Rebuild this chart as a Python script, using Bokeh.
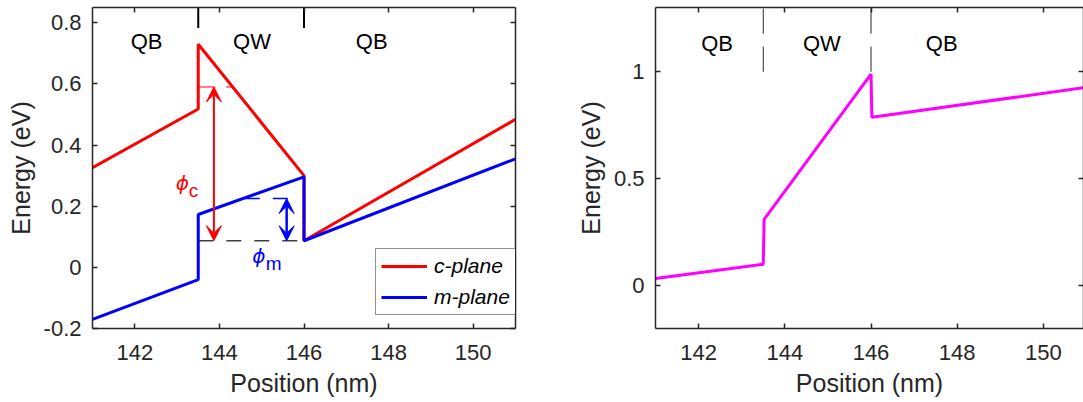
from bokeh.plotting import figure
from bokeh.layouts import row
from bokeh.models import LinearAxis, Range1d, FixedTicker, Arrow, VeeHead, Legend, LegendItem
from bokeh.embed import file_html
from bokeh.resources import INLINE
from bokeh.core.properties import value

# ---------------- data ----------------
pos_c = [141.0, 143.5, 143.5, 146.0, 146.0, 151.0]
energy_c = [0.326, 0.518, 0.730, 0.300, 0.087, 0.484]
pos_m = [141.0, 143.5, 143.5, 146.0, 146.0, 151.0]
energy_m = [-0.170, -0.040, 0.173, 0.296, 0.087, 0.355]
pos_r = [141.0, 143.5, 143.52, 146.0, 146.02, 151.0]
energy_r = [0.034, 0.100, 0.310, 0.989, 0.787, 0.927]

x_ticks = [142, 144, 146, 148, 150]
x_tick_labels = ["142", "144", "146", "148", "150"]
y_ticks_left = [-0.2, 0.0, 0.2, 0.4, 0.6, 0.8]
y_tick_labels_left = ["-0.2", "0", "0.2", "0.4", "0.6", "0.8"]
y_ticks_right = [0.0, 0.5, 1.0]
y_tick_labels_right = ["0", "0.5", "1"]

region_labels = ["QB", "QW", "QB"]
region_x_left = [142.28, 144.77, 147.6]
region_y_left = [0.738, 0.738, 0.738]
region_x_right = [142.43, 144.86, 147.64]
region_y_right = [1.13, 1.13, 1.13]
boundaries = [143.5, 146.0]
boundary_y_left = [0.783, 0.85]
boundary_y_right = [1.0, 1.3]

# annotations (left panel)
phi_c_arrow_x = 143.87
phi_c_arrow_y = [0.087, 0.59]
phi_c_ref_x = [143.5, 144.31]
phi_c_ref_y = 0.59
phi_m_arrow_x = 145.59
phi_m_arrow_y = [0.087, 0.225]
phi_m_ref_x = [144.6, 145.76]
phi_m_ref_y = 0.225
base_x = [143.5, 146.0]
base_y = 0.087
phi_c_sym = (143.125, 0.277)
phi_c_sub = (143.39, 0.2525)
phi_m_sym = (144.93, 0.037)
phi_m_sub = (145.28, 0.014)

AX = "#262626"
FONT = "Liberation Sans"


def make_fig(width, xr, yr, yticks, ylabels, mbl, mbr):
    p = figure(width=width, height=402, x_range=Range1d(*xr), y_range=Range1d(*yr),
               output_backend="svg", toolbar_location=None,
               min_border_left=mbl, min_border_right=mbr, min_border_top=7, min_border_bottom=74,
               x_axis_type=None, y_axis_type=None)
    p.grid.visible = False
    p.outline_line_color = None
    p.background_fill_color = "white"
    p.border_fill_color = "white"

    def base_axis(ticks, labels, show):
        if show:
            overrides = {t: l for t, l in zip(ticks, labels)}
        else:
            overrides = {t: "" for t in ticks}
        ax = LinearAxis(ticker=FixedTicker(ticks=ticks), major_label_overrides=overrides)
        ax.axis_line_color = AX
        ax.axis_line_width = 1.5
        ax.major_tick_line_color = AX
        ax.major_tick_line_width = 1.5
        ax.major_tick_in = 5
        ax.major_tick_out = 0
        ax.minor_tick_line_color = None
        ax.major_label_text_font = FONT
        ax.major_label_text_font_size = "22px"
        ax.major_label_text_color = AX
        if show:
            ax.major_label_standoff = 11
            ax.axis_label_text_font = FONT
            ax.axis_label_text_font_size = "25px"
            ax.axis_label_text_font_style = "normal"
            ax.axis_label_text_color = AX
        else:
            ax.major_label_standoff = 0
            ax.axis_label_standoff = 0
        return ax

    xb = base_axis(x_ticks, x_tick_labels, True)
    xb.axis_label = "Position (nm)"
    xb.major_label_standoff = 16
    xb.axis_label_standoff = 6
    yl = base_axis(yticks, ylabels, True)
    yl.axis_label = "Energy (eV)"
    yl.axis_label_standoff = 6
    p.add_layout(xb, "below")
    p.add_layout(yl, "left")
    p.add_layout(base_axis(x_ticks, x_tick_labels, False), "above")
    p.add_layout(base_axis(yticks, ylabels, False), "right")
    return p


# ---------------- left panel ----------------
p1 = make_fig(540, (141, 151), (-0.2, 0.85), y_ticks_left, y_tick_labels_left, 92, 25)

# helper dashed lines
p1.line(phi_c_ref_x, [phi_c_ref_y] * 2, line_color="red", line_width=1, line_dash="17 11")
p1.line(base_x, [base_y] * 2, line_color="#404040", line_width=1.5, line_dash="15 13")
p1.line(phi_m_ref_x, [phi_m_ref_y] * 2, line_color="blue", line_width=1.5, line_dash="15 13")

r_c = p1.line(pos_c, energy_c, line_color="red", line_width=3)
r_m = p1.line(pos_m, energy_m, line_color="blue", line_width=3)

for bx in boundaries:
    p1.line([bx, bx], boundary_y_left, line_color="black", line_width=2)

p1.add_layout(Arrow(start=VeeHead(size=15, fill_color="red", line_color="red"),
                    end=VeeHead(size=15, fill_color="red", line_color="red"),
                    x_start=phi_c_arrow_x, y_start=phi_c_arrow_y[0],
                    x_end=phi_c_arrow_x, y_end=phi_c_arrow_y[1],
                    line_color="red", line_width=2))
p1.add_layout(Arrow(start=VeeHead(size=15, fill_color="blue", line_color="blue"),
                    end=VeeHead(size=15, fill_color="blue", line_color="blue"),
                    x_start=phi_m_arrow_x, y_start=phi_m_arrow_y[0],
                    x_end=phi_m_arrow_x, y_end=phi_m_arrow_y[1],
                    line_color="blue", line_width=2.5))

p1.text(x=region_x_left, y=region_y_left, text=region_labels, text_align="center",
        text_baseline="middle", text_font=value(FONT), text_font_size="22px", text_color="black")

p1.text(x=[phi_c_sym[0]], y=[phi_c_sym[1]], text=["ϕ"], text_align="center", text_baseline="middle",
        text_font=value("DejaVu Sans"), text_font_style="italic", text_font_size="20px", text_color="red")
p1.text(x=[phi_c_sub[0]], y=[phi_c_sub[1]], text=["c"], text_align="center", text_baseline="middle",
        text_font=value(FONT), text_font_size="19px", text_color="red")
p1.text(x=[phi_m_sym[0]], y=[phi_m_sym[1]], text=["ϕ"], text_align="center", text_baseline="middle",
        text_font=value("DejaVu Sans"), text_font_style="italic", text_font_size="20px", text_color="blue")
p1.text(x=[phi_m_sub[0]], y=[phi_m_sub[1]], text=["m"], text_align="center", text_baseline="middle",
        text_font=value(FONT), text_font_size="19px", text_color="blue")

legend = Legend(items=[LegendItem(label="c-plane", renderers=[r_c]),
                       LegendItem(label="m-plane", renderers=[r_m])],
                location=(283, 13), orientation="vertical",
                label_text_font=FONT, label_text_font_style="italic", label_text_font_size="21px",
                label_text_color="black",
                glyph_width=46, glyph_height=22, label_height=22, label_standoff=7,
                padding=5, spacing=7, margin=0,
                border_line_color=AX, border_line_width=1, background_fill_alpha=1.0)
p1.add_layout(legend)

# ---------------- right panel ----------------
p2 = make_fig(543, (141, 150.93), (-0.2, 1.3), y_ticks_right, y_tick_labels_right, 115, 0)
for bx in boundaries:
    p2.line([bx, bx], boundary_y_right, line_color=AX, line_width=1, line_dash="25 13")
p2.line(pos_r, energy_r, line_color="#ff00ff", line_width=3)
p2.text(x=region_x_right, y=region_y_right, text=region_labels, text_align="center",
        text_baseline="middle", text_font=value(FONT), text_font_size="22px", text_color="black")

layout = row(p1, p2)
open("out.html", "w").write(file_html(layout, INLINE))
